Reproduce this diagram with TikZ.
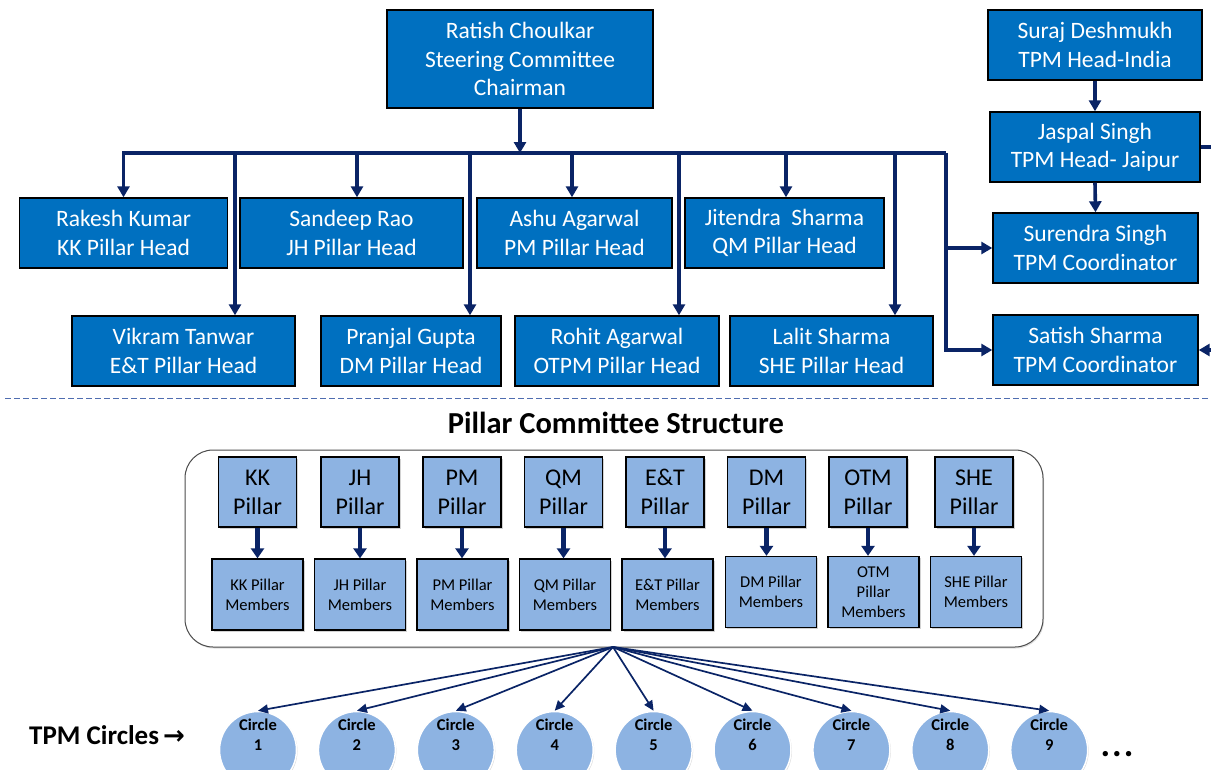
\documentclass[tikz,border=0pt]{standalone}
\usepackage{fontspec}
\setmainfont{Carlito}
\newfontfamily\arrowfont{DejaVu Sans}
\usetikzlibrary{arrows.meta,shadows}

\definecolor{headblue}{HTML}{0070C0}
\definecolor{navy}{HTML}{0A2466}
\definecolor{pillarblue}{HTML}{8DB3E2}
\definecolor{sepblue}{HTML}{4F6DB0}

\tikzset{
  headbox/.style={draw=black, line width=1.4pt, fill=headblue, text=white,
    align=center, inner sep=0pt, minimum height=70,
    font=\fontsize{23.5}{28.5}\selectfont},
  conn/.style={draw=navy, line width=3.6pt},
  tip/.style={-{Triangle[length=11pt,width=12pt]}},
  pillarbox/.style={draw=black, line width=1.3pt, fill=pillarblue, align=center,
    inner sep=0pt, minimum width=78, minimum height=70,
    font=\fontsize{24}{29}\selectfont,
    drop shadow={shadow xshift=1.5pt, shadow yshift=-1.5pt, opacity=0.35}},
  memberbox/.style={draw=black, line width=1.3pt, fill=pillarblue, align=center,
    inner sep=0pt, minimum width=91, minimum height=71,
    font=\fontsize{16.5}{20}\selectfont,
    drop shadow={shadow xshift=1.5pt, shadow yshift=-1.5pt, opacity=0.35}},
  circlenode/.style={circle, draw=white, line width=1.5pt, fill=pillarblue,
    minimum size=77, inner sep=0pt,
    drop shadow={shadow xshift=1pt, shadow yshift=-1pt, opacity=0.3}},
  circletext/.style={align=center, inner sep=0pt,
    font=\bfseries\fontsize{16.5}{20}\selectfont},
  fan/.style={draw=navy, line width=1.7pt, -{Triangle[length=10pt,width=9pt]}},
  memberarrow/.style={draw=navy, line width=4.5pt, -{Triangle[length=10pt,width=13pt]}},
}

\begin{document}
\begin{tikzpicture}[x=1pt, y=-1pt]
  \useasboundingbox (0,0) rectangle (1211,769);
  \clip (0,0) rectangle (1211,769);

  % ---------- steering committee ----------
  \node[headbox, minimum width=266, minimum height=98] (chair) at (520,59)
    {Ratish Choulkar\\Steering Committee\\Chairman};
  \node[headbox, minimum width=214] (suraj) at (1095,45) {Suraj Deshmukh\\TPM Head-India};
  \node[headbox, minimum width=210] (jaspal) at (1095,147) {Jaspal Singh\\TPM Head- Jaipur};
  \node[headbox, minimum width=205] (surendra) at (1095.5,248) {Surendra Singh\\TPM Coordinator};
  \node[headbox, minimum width=205] (satish) at (1095.5,350) {Satish Sharma\\TPM Coordinator};

  \node[headbox, minimum width=208] (rakesh) at (123.5,233) {Rakesh Kumar\\KK Pillar Head};
  \node[headbox, minimum width=223] (sandeep) at (351.5,233) {Sandeep Rao\\JH Pillar Head};
  \node[headbox, minimum width=195] (ashu) at (574.5,233) {Ashu Agarwal\\PM Pillar Head};
  \node[headbox, minimum width=199] (jitendra) at (784.5,233) {Jitendra\ \ Sharma\\QM Pillar Head};

  \node[headbox, minimum width=223] (vikram) at (183.5,351) {Vikram Tanwar\\E\&T Pillar Head};
  \node[headbox, minimum width=180] (pranjal) at (411,351) {Pranjal Gupta\\DM Pillar Head};
  \node[headbox, minimum width=204] (rohit) at (617,351) {Rohit Agarwal\\OTPM Pillar Head};
  \node[headbox, minimum width=203] (lalit) at (831.5,351) {Lalit Sharma\\SHE Pillar Head};

  % main distribution bus
  \coordinate (busL) at (123.5,153);
  \coordinate (busR) at (946,153);
  \coordinate (bVik) at (235,153);
  \coordinate (bSan) at (357,153);
  \coordinate (bPra) at (470,153);
  \coordinate (bAsh) at (572,153);
  \coordinate (bRoh) at (679,153);
  \coordinate (bJit) at (786,153);
  \coordinate (bLal) at (895,153);

  \draw[conn, tip] (chair.south) -- (chair.south |- busL);
  \draw[conn, tip] (busR) -- (busL) -- (rakesh.north);
  \draw[conn, tip] (busR) |- (satish.west);
  \draw[conn, tip] (busR |- surendra.west) -- (surendra.west);

  \draw[conn, tip] (bVik) -- (bVik |- vikram.north);
  \draw[conn, tip] (bSan) -- (bSan |- sandeep.north);
  \draw[conn, tip] (bPra) -- (bPra |- pranjal.north);
  \draw[conn, tip] (bAsh) -- (bAsh |- ashu.north);
  \draw[conn, tip] (bRoh) -- (bRoh |- rohit.north);
  \draw[conn, tip] (bJit) -- (bJit |- jitendra.north);
  \draw[conn, tip] (bLal) -- (bLal |- lalit.north);

  % plant TPM line
  \draw[conn, tip] (suraj.south) -- (jaspal.north);
  \draw[conn, tip] (jaspal.south) -- (surendra.north);
  \draw[conn, tip] (jaspal.east) -- ++(22,0) |- (satish.east);

  % separator
  \draw[sepblue, line width=1pt, dash pattern=on 6pt off 3pt] (5,398) -- (1211,398);

  % ---------- pillar committee structure ----------
  \node[font=\bfseries\fontsize{30.5}{34}\selectfont, inner sep=0pt] (title) at (616,423)
    {Pillar Committee Structure};

  \node[draw=gray!60!black, line width=1pt, fill=white, rounded corners=28pt,
    minimum width=858, minimum height=197, inner sep=0pt,
    drop shadow={shadow xshift=1pt, shadow yshift=-1.5pt, opacity=0.25}]
    (panel) at (614,548.5) {};

  \foreach \nm/\px/\mx/\my/\ptext/\mtext in {
      kk/257.5/257.5/594.5/KK/{KK Pillar\\Members},
      jh/360/360/594.5/JH/{JH Pillar\\Members},
      pm/462/462.5/594.5/PM/{PM Pillar\\Members},
      qm/563.5/565/594.5/QM/{QM Pillar\\Members},
      et/665/667.5/594.5/E\&T/{E\&T Pillar\\Members},
      dm/766.5/771/592/DM/{DM Pillar\\Members},
      otm/868/873.5/592/OTM/{OTM\\Pillar\\Members},
      she/974/976/592/SHE/{SHE Pillar\\Members}} {
    \node[pillarbox] (p-\nm) at (\px,492) {\ptext\\Pillar};
    \node[memberbox] (m-\nm) at (\mx,\my) {\mtext};
    \draw[memberarrow] (p-\nm.south) -- (p-\nm.south |- m-\nm.north);
  }

  % ---------- TPM circles ----------
  \coordinate (fanout) at (613,647);
  \foreach \i in {1,...,9} {
    \node[circlenode] (c\i) at ({258+98.9*(\i-1)},750) {};
    \node[circletext] (ct\i) at ({258+98.9*(\i-1)},735) {Circle\\\i};
    \draw[fan] (fanout) -- (c\i.north);
  }

  \node[font=\bfseries\fontsize{27}{30}\selectfont, inner sep=0pt, anchor=west] (tpmlabel)
    at (29,735) {TPM Circles\kern4pt{\arrowfont\bfseries\fontsize{26}{28}\selectfont →}};
  \node[font=\bfseries\fontsize{36}{36}\selectfont, inner sep=0pt, anchor=base] (more)
    at (1117,756) {.\kern2pt.\kern2pt.};
\end{tikzpicture}
\end{document}
